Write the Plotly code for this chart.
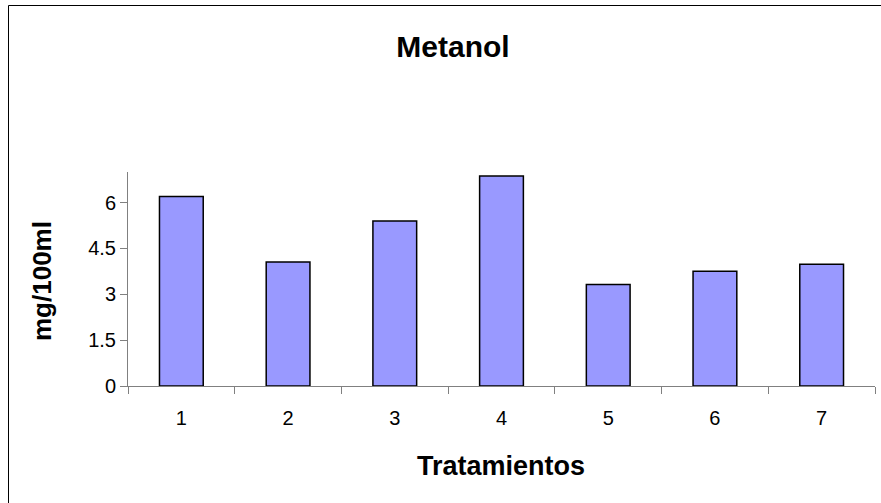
import plotly.graph_objects as go

categories = ["1", "2", "3", "4", "5", "6", "7"]
values = [6.2, 4.06, 5.4, 6.87, 3.32, 3.75, 3.98]
ytick_vals = [0, 1.5, 3, 4.5, 6]
ytick_text = ["0", "1.5", "3", "4.5", "6"]

FONT = "Liberation Sans, Arial, sans-serif"
W, H = 881, 503
L, R, T, B = 128, 6, 172, 117
pw, ph = W - L - R, H - T - B

fig = go.Figure(go.Bar(
    x=categories, y=values,
    marker=dict(color="#9999FF", line=dict(color="#000000", width=1.5)),
))

def px2x(px):
    return (px - L) / pw

def py2y(py):
    return (H - B - py) / ph

fig.add_shape(type="rect", xref="paper", yref="paper",
              x0=px2x(8.5), x1=px2x(895), y0=py2y(5.5), y1=py2y(515),
              line=dict(color="#000000", width=1), fillcolor="rgba(0,0,0,0)")

fig.add_annotation(text="<b>Tratamientos</b>", xref="paper", yref="paper",
                   x=px2x(501), y=py2y(466), xanchor="center", yanchor="middle",
                   showarrow=False, font=dict(size=27, family=FONT))
fig.add_annotation(text="<b>mg/100ml</b>", xref="paper", yref="paper",
                   x=px2x(42), y=py2y(281), xanchor="center", yanchor="middle",
                   textangle=-90, showarrow=False, font=dict(size=26, family=FONT))

fig.update_layout(
    width=W, height=H,
    margin=dict(l=L, r=R, t=T, b=B),
    paper_bgcolor="white", plot_bgcolor="white",
    font=dict(family=FONT, color="#000000", size=20),
    bargap=0.59,
    showlegend=False,
    title=dict(text="<b>Metanol</b>", x=453 / W, xref="container", xanchor="center",
               y=1 - 46 / H, yref="container", yanchor="middle",
               font=dict(size=30, family=FONT)),
    xaxis=dict(
        type="category", showline=True, linecolor="#808080", linewidth=1,
        ticks="outside", tickson="boundaries", ticklen=7, tickcolor="#808080",
        showgrid=False, tickfont=dict(size=20), ticklabelstandoff=14,
    ),
    yaxis=dict(
        range=[0, 7], showline=True, linecolor="#808080", linewidth=1,
        ticks="outside", ticklen=7, tickcolor="#808080",
        tickvals=ytick_vals, ticktext=ytick_text, showgrid=False,
        zeroline=False, tickfont=dict(size=20),
    ),
)

fig.write_html("out.html", config={"displayModeBar": False},
               post_script="document.body.style.margin='0';")
